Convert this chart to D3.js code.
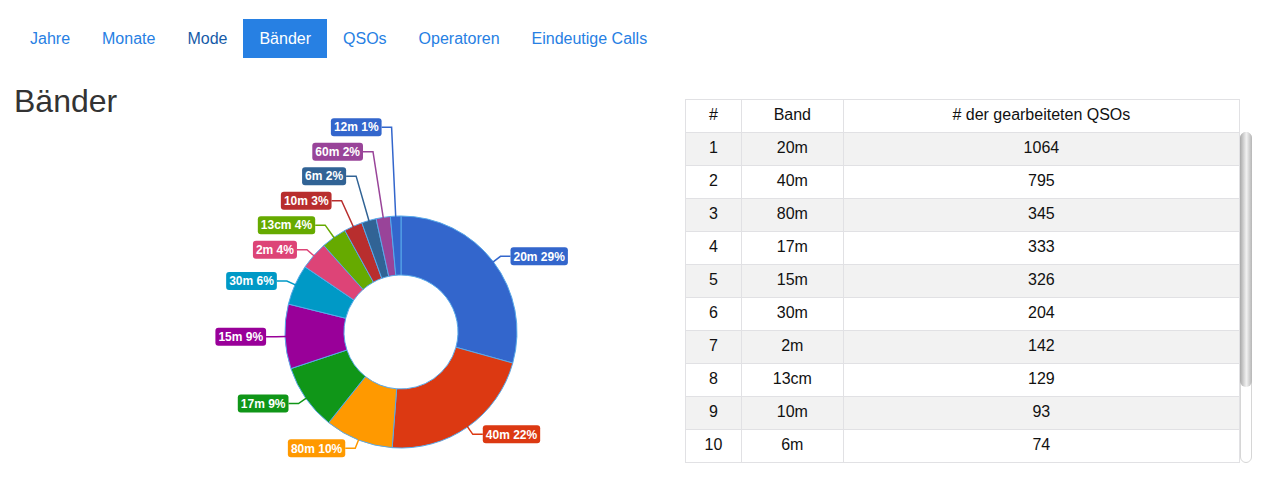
<!DOCTYPE html>
<html>
<head>
<meta charset="utf-8">
<script src="https://cdn.jsdelivr.net/npm/d3@7"></script>
<style>
  body { margin: 0; background: #fff; font-family: "Liberation Sans", Arial, sans-serif; color: #333; }
  #nav { position: absolute; left: 14px; top: 19px; display: flex; }
  #nav a { display: block; padding: 0 16px; height: 39px; line-height: 39px; font-size: 16px; color: #2780e3; text-decoration: none; }
  #nav a.active { background: #2780e3; color: #fff; }
  #nav a.focus { color: #165ba8; }
  h2 { position: absolute; left: 14px; top: 83px; margin: 0; font-size: 32px; font-weight: normal; color: #333; line-height: 36px; }
  #chart { position: absolute; left: 0; top: 0; }
  #tablewrap { position: absolute; left: 685px; top: 99px; width: 555px; height: 364px; overflow: hidden; }
  table { border-collapse: collapse; width: 555px; font-size: 16px; color: #111; }
  td, th { border: 1px solid #e1e1e4; text-align: center; font-weight: normal; height: 32px; padding: 0 0 2px 0; box-sizing: border-box; }
  tbody tr:nth-child(odd) { background: #f2f2f2; }
  #track { position: absolute; left: 1240px; top: 132px; width: 10px; height: 329px; border: 1px solid #d6d6d6; border-radius: 6px; background: #fff; }
  #thumb { position: absolute; left: 1240px; top: 132px; width: 12px; height: 255px; border-radius: 6px;
    background: linear-gradient(to right, #a9a9a9, #e6e6e6 45%, #f0f0f0 55%, #b5b5b5); }
</style>
</head>
<body>
<div id="nav"></div>
<h2>Bänder</h2>
<svg id="chart" width="680" height="482"></svg>
<div id="tablewrap"></div>
<div id="track"></div>
<div id="thumb"></div>
<script>
const tabs = ['Jahre', 'Monate', 'Mode', 'Bänder', 'QSOs', 'Operatoren', 'Eindeutige Calls'];
const activeTab = 'Bänder';
const bands = ['20m', '40m', '80m', '17m', '15m', '30m', '2m', '13cm', '10m', '6m', '60m', '12m'];
const qsos = [1064, 795, 345, 333, 326, 204, 142, 129, 93, 74, 72, 53];
const colors = ['#3366cc', '#dc3912', '#ff9900', '#109618', '#990099', '#0099c6',
    '#dd4477', '#66aa00', '#b82e2e', '#316395', '#994499', '#3366cc'];
const headers = ['#', 'Band', '# der gearbeiteten QSOs'];
const visibleRows = 10; // the rest is scrolled out of view

d3.select('#nav').selectAll('a')
    .data(tabs)
    .enter()
    .append('a')
    .attr('class', d => d === activeTab ? 'active' : (d === 'Mode' ? 'focus' : null))
    .text(d => d);

// donut
const cx = 401, cy = 332;
const outerR = 116, innerR = 57;
const data = bands.map((b, i) => ({ band: b, value: qsos[i], color: colors[i] }));
const total = d3.sum(qsos);

const pie = d3.pie().sort(null).value(d => d.value);
const arc = d3.arc().innerRadius(innerR).outerRadius(outerR);
const arcs = pie(data);

const g = d3.select('#chart').append('g')
    .attr('transform', `translate(${cx}, ${cy})`);

g.selectAll('path.slice')
    .data(arcs)
    .enter()
    .append('path')
    .attr('class', 'slice')
    .attr('d', arc)
    .attr('fill', d => d.data.color)
    .attr('stroke', '#58a9ea')
    .attr('stroke-width', 1);

// label placement: elbow at r=125, left side pushed up so boxes don't overlap
const elbowR = 125, gap = 24.5;
arcs.forEach(a => {
    a.mid = (a.startAngle + a.endAngle) / 2;
    a.left = a.mid > Math.PI;
    a.ly = -elbowR * Math.cos(a.mid);
    a.lx = elbowR * Math.sin(a.mid);
});
const leftLabels = arcs.filter(a => a.left).sort((p, q) => q.ly - p.ly);
let prev = Infinity;
leftLabels.forEach(a => {
    if (a.ly > prev - gap) {
        a.ly = prev - gap;
        const r = -a.ly / Math.cos(a.mid);
        a.lx = r * Math.sin(a.mid);
    }
    prev = a.ly;
});

const labels = g.selectAll('g.label')
    .data(arcs)
    .enter()
    .append('g')
    .attr('class', 'label');

labels.append('polyline')
    .attr('fill', 'none')
    .attr('stroke', d => d.data.color)
    .attr('stroke-width', 1.5)
    .attr('points', d => {
        const sx = (outerR - 1) * Math.sin(d.mid), sy = -(outerR - 1) * Math.cos(d.mid);
        const ex = d.lx + (d.left ? -10 : 10);
        return [[sx, sy], [d.lx, d.ly], [ex, d.ly]].map(p => p.join(',')).join(' ');
    });

const rects = labels.append('rect')
    .attr('rx', 3)
    .attr('height', 18)
    .attr('fill', d => d.data.color);

const texts = labels.append('text')
    .attr('fill', '#fff')
    .attr('font-size', 12)
    .attr('font-weight', 'bold')
    .attr('text-anchor', 'middle')
    .attr('dy', '0.36em')
    .text(d => `${d.data.band} ${Math.round(d.data.value / total * 100)}%`);

texts.each(function (d) {
    const w = this.getComputedTextLength() + 6;
    d.bx = d.left ? d.lx - 10 - w : d.lx + 10;
    d.bw = w;
});
rects.attr('x', d => d.bx).attr('y', d => d.ly - 9).attr('width', d => d.bw);
texts.attr('x', d => d.bx + d.bw / 2).attr('y', d => d.ly);

// table
const table = d3.select('#tablewrap').append('table');
const colW = [56, 102, 397];
table.append('thead').append('tr')
    .selectAll('th')
    .data(headers)
    .enter()
    .append('th')
    .style('width', (d, i) => colW[i] + 'px')
    .style('height', '33px')
    .text(d => d);
table.append('tbody')
    .selectAll('tr')
    .data(data.slice(0, visibleRows))
    .enter()
    .append('tr')
    .selectAll('td')
    .data((d, i) => [i + 1, d.band, d.value])
    .enter()
    .append('td')
    .style('height', '33px')
    .text(d => d);
</script>
</body>
</html>
